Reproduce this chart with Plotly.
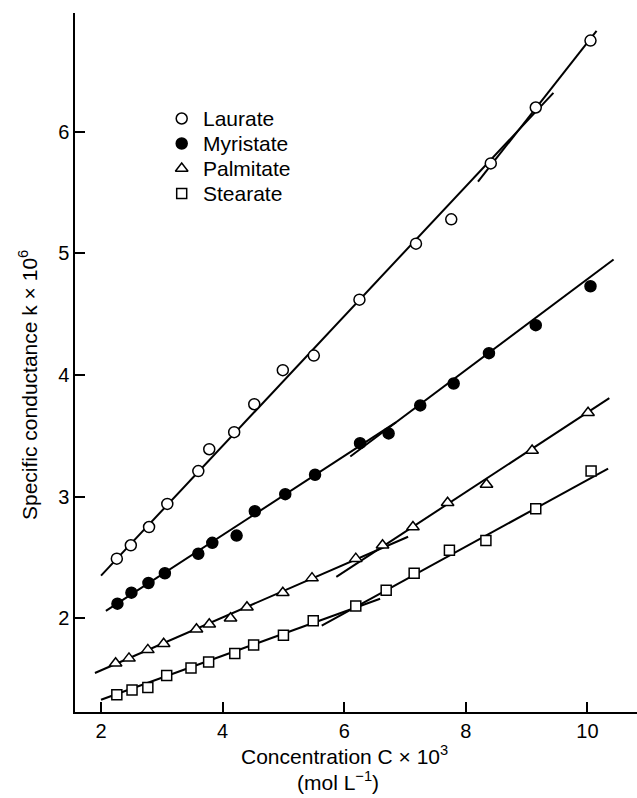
import plotly.graph_objects as go

# ---- data ----
conc_laurate = [2.26, 2.49, 2.79, 3.09, 3.60, 3.78, 4.19, 4.52, 4.99, 5.50, 6.25, 7.18, 7.76, 8.41, 9.15, 10.05]
k_laurate = [2.49, 2.60, 2.75, 2.94, 3.21, 3.39, 3.53, 3.76, 4.04, 4.16, 4.62, 5.08, 5.28, 5.74, 6.20, 6.75]

conc_myristate = [2.27, 2.50, 2.78, 3.05, 3.60, 3.83, 4.23, 4.53, 5.03, 5.52, 6.26, 6.73, 7.25, 7.80, 8.38, 9.15, 10.05]
k_myristate = [2.12, 2.21, 2.29, 2.37, 2.53, 2.62, 2.68, 2.88, 3.02, 3.18, 3.44, 3.52, 3.75, 3.93, 4.18, 4.41, 4.73]

conc_palmitate = [2.24, 2.46, 2.77, 3.03, 3.57, 3.78, 4.13, 4.40, 4.99, 5.47, 6.19, 6.63, 7.13, 7.70, 8.34, 9.09, 10.01]
k_palmitate = [1.63, 1.67, 1.74, 1.79, 1.91, 1.95, 2.00, 2.09, 2.21, 2.33, 2.49, 2.60, 2.75, 2.95, 3.10, 3.38, 3.69]

conc_stearate = [2.26, 2.51, 2.77, 3.08, 3.48, 3.77, 4.20, 4.51, 5.00, 5.49, 6.19, 6.69, 7.15, 7.73, 8.33, 9.15, 10.06]
k_stearate = [1.37, 1.41, 1.43, 1.53, 1.59, 1.64, 1.71, 1.78, 1.86, 1.98, 2.10, 2.23, 2.37, 2.56, 2.64, 2.90, 3.21]

# fitted straight-line segments (below / above the break)
fit_c_laurate_1 = [2.00, 9.44]
fit_k_laurate_1 = [2.35, 6.32]
fit_c_laurate_2 = [8.20, 10.15]
fit_k_laurate_2 = [5.59, 6.83]

fit_c_myristate_1 = [2.08, 6.85]
fit_k_myristate_1 = [2.06, 3.61]
fit_c_myristate_2 = [6.10, 10.43]
fit_k_myristate_2 = [3.33, 4.95]

fit_c_palmitate_1 = [1.90, 7.05]
fit_k_palmitate_1 = [1.55, 2.67]
fit_c_palmitate_2 = [5.87, 10.36]
fit_k_palmitate_2 = [2.34, 3.81]

fit_c_stearate_1 = [2.00, 6.59]
fit_k_stearate_1 = [1.33, 2.16]
fit_c_stearate_2 = [5.63, 10.34]
fit_k_stearate_2 = [1.94, 3.23]

x_ticks = [2, 4, 6, 8, 10]
y_ticks = [2, 3, 4, 5, 6]

legend_labels = ["Laurate", "Myristate", "Palmitate", "Stearate"]
legend_symbols = ["circle", "circle", "triangle-up", "square"]
legend_fills = ["#ffffff", "#000000", "#ffffff", "#ffffff"]

FONT = "Liberation Sans, Arial, Helvetica, sans-serif"

# pixel layout of the plot area
PL, PR, PT, PB = 75, 637, 13, 712
W, H = 637, 798

fig = go.Figure()

fits = [
    (fit_c_laurate_1, fit_k_laurate_1), (fit_c_laurate_2, fit_k_laurate_2),
    (fit_c_myristate_1, fit_k_myristate_1), (fit_c_myristate_2, fit_k_myristate_2),
    (fit_c_palmitate_1, fit_k_palmitate_1), (fit_c_palmitate_2, fit_k_palmitate_2),
    (fit_c_stearate_1, fit_k_stearate_1), (fit_c_stearate_2, fit_k_stearate_2),
]
for cx, ky in fits:
    fig.add_trace(go.Scatter(x=cx, y=ky, mode="lines",
                             line=dict(color="black", width=2),
                             showlegend=False, hoverinfo="skip"))

series = [
    ("Laurate", conc_laurate, k_laurate),
    ("Myristate", conc_myristate, k_myristate),
    ("Palmitate", conc_palmitate, k_palmitate),
    ("Stearate", conc_stearate, k_stearate),
]
for (name, cx, ky), sym, fill in zip(series, legend_symbols, legend_fills):
    fig.add_trace(go.Scatter(
        x=cx, y=ky, mode="markers", name=name, showlegend=False,
        marker=dict(symbol=sym, size=11 if sym != "square" else 10, color=fill,
                    line=dict(color="black", width=1.5)),
    ))

# hand-made legend on an overlay axis measured in pixels
leg_x_marker = 181.7
leg_x_text = 201
leg_y0 = 118.5
leg_dy = 25
leg_y = [leg_y0 + i * leg_dy for i in range(len(legend_labels))]
for sym, fill, yy in zip(legend_symbols, legend_fills, leg_y):
    fig.add_trace(go.Scatter(
        x=[leg_x_marker], y=[yy], mode="markers",
        xaxis="x2", yaxis="y2", showlegend=False, hoverinfo="skip",
        marker=dict(symbol=sym, size=11 if sym != "square" else 10,
                    color=fill, opacity=1, line=dict(color="#000000", width=1.5)),
    ))

annotations = []
for lab, yy in zip(legend_labels, leg_y):
    annotations.append(dict(text=lab, xref="x2", yref="y2", x=leg_x_text, y=yy,
                            xanchor="left", yanchor="middle", showarrow=False,
                            font=dict(size=21, family=FONT)))

annotations += [
    dict(text="Concentration C \u00d7 10<sup>3</sup>", xref="paper", yref="paper",
         x=(344 - PL) / (PR - PL), y=-(755 - PB) / (PB - PT), xanchor="center", yanchor="middle",
         showarrow=False, font=dict(size=21, family=FONT)),
    dict(text="(mol L<sup>\u22121</sup>)", xref="paper", yref="paper",
         x=(338 - PL) / (PR - PL), y=-(781 - PB) / (PB - PT), xanchor="center", yanchor="middle",
         showarrow=False, font=dict(size=21, family=FONT)),
    dict(text="Specific conductance k \u00d7 10<sup>6</sup>", xref="paper", yref="paper",
         x=-(PL - 28) / (PR - PL), y=1 - (385 - PT) / (PB - PT), xanchor="center", yanchor="middle",
         textangle=-90, showarrow=False, font=dict(size=21, family=FONT)),
]

fig.update_layout(
    width=W, height=H,
    margin=dict(l=PL, r=W - PR, t=PT, b=H - PB),
    paper_bgcolor="white", plot_bgcolor="white",
    font=dict(family=FONT, size=20, color="black"),
    showlegend=False,
    xaxis=dict(range=[1.572, 10.815], tickmode="array", tickvals=x_ticks,
               ticktext=[str(t) for t in x_ticks],
               showgrid=False, zeroline=False, showline=True,
               linecolor="black", linewidth=1.5,
               ticks="inside", ticklen=10, tickwidth=1.5, tickcolor="black",
               tickfont=dict(size=20, family=FONT)),
    yaxis=dict(range=[1.229, 6.977], tickmode="array", tickvals=y_ticks,
               ticktext=[str(t) for t in y_ticks],
               showgrid=False, zeroline=False, showline=True,
               linecolor="black", linewidth=1.5,
               ticks="inside", ticklen=10, tickwidth=1.5, tickcolor="black",
               tickfont=dict(size=20, family=FONT)),
    xaxis2=dict(range=[PL, PR], overlaying="x", visible=False, fixedrange=True),
    yaxis2=dict(range=[PB, PT], overlaying="y", visible=False, fixedrange=True),
    annotations=annotations,
)

fig.write_html("out.html")
